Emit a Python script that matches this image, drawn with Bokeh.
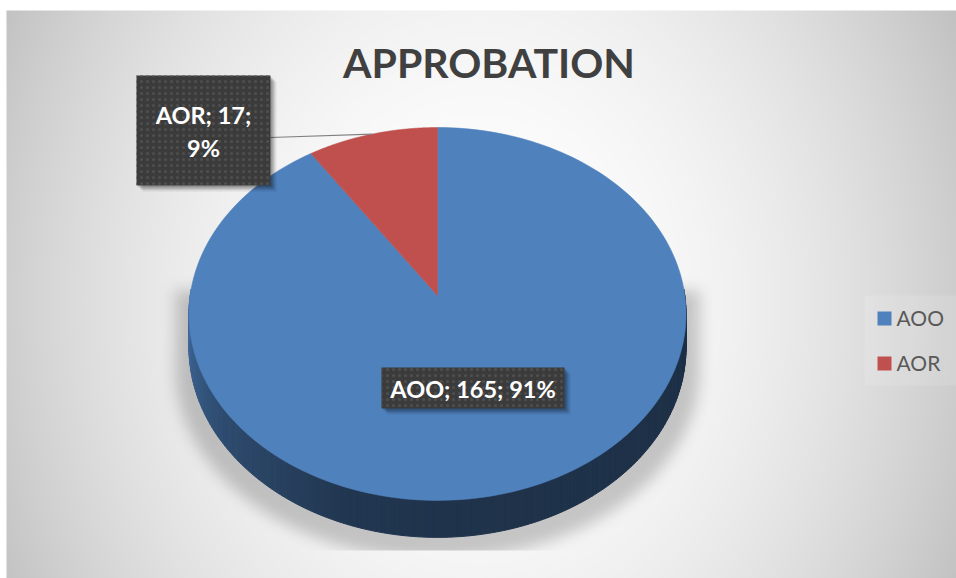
import numpy as np
from bokeh.plotting import figure
from bokeh.models import Range1d
from bokeh.core.properties import value
from bokeh.embed import file_html
from bokeh.resources import INLINE

# ---------------- data ----------------
title = "APPROBATION"
categories = ["AOO", "AOR"]
counts = [165, 17]
colors = ["#4f81bd", "#c0504d"]

# ---------------- layout ----------------
W, H = 956, 578
X0, Y0 = 0, 0
BASE_SHIFT = 0.36  # empirical correction of the rendered text baseline (em)


def Y(iy):
    return (Y0 + H) - iy


def TY(iy, fs):
    return Y(iy - BASE_SHIFT * fs)


p = figure(width=W, height=H, x_range=Range1d(X0, X0 + W), y_range=Range1d(0, H),
           output_backend="svg", toolbar_location=None, min_border=0,
           x_axis_type=None, y_axis_type=None)
p.grid.visible = False
p.outline_line_color = None
p.background_fill_color = "#ffffff"
p.border_fill_color = "#ffffff"

# ---------------- background (radial gray gradient + soft pie shadow) ----------------
xs = np.arange(X0, X0 + W) + 0.5
ys = np.arange(Y0, Y0 + H) + 0.5
XX, YY = np.meshgrid(xs, ys)
gray = 255 - 48 * ((XX - 478) / 470.0) ** 2 - 12 * ((YY - 300) / 290.0) ** 2


def blur1d(a, r, axis):
    a = np.swapaxes(a, 0, axis)
    pad = np.concatenate([np.repeat(a[:1], r, 0), a, np.repeat(a[-1:], r, 0)], 0)
    c = np.cumsum(pad, 0)
    c = np.concatenate([np.zeros_like(c[:1]), c], 0)
    out = (c[2 * r + 1:] - c[:-2 * r - 1]) / (2 * r + 1)
    return np.swapaxes(out, 0, axis)


dx = XX - 437
a_s, b_s = 262.0, 190.0
inside = (np.abs(dx) < a_s) & (YY >= 290) & \
    (YY <= 313.5 + 55 + b_s * np.sqrt(np.clip(1 - dx ** 2 / a_s ** 2, 0, None)))
m = inside.astype(float)
for _ in range(2):
    m = blur1d(m, 8, 0)
    m = blur1d(m, 8, 1)
m[YY > 550] = 0
gray = gray * (1 - 0.2 * m)
gray[YY < 10] = 255
gray[XX < 6] = 255
g8 = np.clip(gray, 0, 255).astype(np.uint8)
rgba = np.zeros((H, W, 4), dtype=np.uint8)
rgba[..., 0] = g8
rgba[..., 1] = g8
rgba[..., 2] = g8
rgba[..., 3] = 255
img = np.flipud(rgba).copy().view(np.uint32).reshape(H, W)
p.image_rgba(image=[img], x=X0, y=0, dw=W, dh=H)

# ---------------- 3D pie ----------------
CX, CY = 437.0, 295.0
A, B, E, T0 = 247.3, 184.6, 0.0991, 33.3

total = float(sum(counts))
fracs = [c / total for c in counts]
starts = np.concatenate([[0.0], np.cumsum(fracs)[:-1]]) * 360
ends = np.cumsum(fracs) * 360


def proj(th_deg):
    th = np.radians(th_deg)
    u, v = np.sin(th), np.cos(th)
    w = 1 + E * v
    return CX + A * u / w, CY - B * v / w, w


def hex2rgb(h):
    h = h.lstrip("#")
    return np.array([int(h[i:i + 2], 16) for i in (0, 2, 4)], dtype=float)


def rgb2hex(c):
    c = np.clip(c, 0, 255).astype(int)
    return "#%02x%02x%02x" % tuple(c)


def slice_of(th):
    for i in range(len(counts)):
        if starts[i] <= th % 360 < ends[i]:
            return i
    return len(counts) - 1


# side wall
th_side = np.linspace(88, 272, 185)
sx, sy, sc = [], [], []
for t1, t2 in zip(th_side[:-1], th_side[1:]):
    x1, y1, w1 = proj(t1)
    x2, y2, w2 = proj(t2)
    tm = 0.5 * (t1 + t2)
    f = np.interp(tm, [88, 180, 200, 240, 272], [0.37, 0.40, 0.43, 0.62, 0.86])
    col = rgb2hex(hex2rgb(colors[slice_of(tm)]) * f)
    sx.append([x1, x2, x2, x1])
    sy.append([Y(y1), Y(y2), Y(y2 + T0 / w2), Y(y1 + T0 / w1)])
    sc.append(col)
p.patches(xs=sx, ys=sy, fill_color=sc, line_color=sc, line_width=1)

# top face
tx, ty = [], []
for i in range(len(counts)):
    th = np.linspace(starts[i], ends[i], 200)
    px, py, _ = proj(th)
    tx.append([CX] + list(px))
    ty.append([Y(CY)] + [Y(v) for v in py])
p.patches(xs=tx, ys=ty, fill_color=colors, line_color=colors, line_width=0.6)

# ---------------- data labels ----------------
pcts = [int(round(100 * c / total)) for c in counts]
lab_aoo = f"{categories[0]}; {counts[0]}; {pcts[0]}%"
lab_aor1 = f"{categories[1]}; {counts[1]};"
lab_aor2 = f"{pcts[1]}%"

# leader line from AOR box to the middle of the AOR arc
mid_aor = 0.5 * (starts[1] + ends[1])
lx, ly, _ = proj(mid_aor)
p.line([270, lx], [Y(137), Y(ly)], line_color="#808080", line_width=1.2)

boxes = [(136, 270, 75, 185), (381, 564, 367, 408)]
for (l, r, t, b) in boxes:
    for off, al in [(2, 0.18), (4, 0.16), (6, 0.08)]:
        p.quad(left=[l + off], right=[r + off], top=[Y(t + off)], bottom=[Y(b + off)],
               fill_color="black", fill_alpha=al, line_color=None)
    p.quad(left=[l], right=[r], top=[Y(t)], bottom=[Y(b)],
           fill_color="#3b3b3b", line_color=None,
           hatch_pattern="dot", hatch_color="#4f4f4f", hatch_scale=6, hatch_weight=1)

LFS = 23.5
p.text(x=[203, 203, 472.5], y=[TY(123, LFS), TY(156, LFS), TY(397, LFS)],
       text=[lab_aor1, lab_aor2, lab_aoo],
       text_font=value("Lato"), text_font_style="bold", text_font_size=f"{LFS}px",
       text_color="white", text_align="center", text_baseline="alphabetic")

# ---------------- title ----------------
TFS = 41
p.text(x=[488.5], y=[TY(77, TFS)], text=[title], text_font=value("Lato"),
       text_font_style="bold", text_font_size=f"{TFS}px", text_color="#404040",
       text_align="center", text_baseline="alphabetic")

# ---------------- legend ----------------
p.quad(left=[864], right=[X0 + W], top=[Y(295)], bottom=[Y(385)],
       fill_color="white", fill_alpha=0.12, line_color=None)
leg_y = [318, 363]
GFS = 21
p.quad(left=[877] * 2, right=[891] * 2, top=[Y(v - 7) for v in leg_y],
       bottom=[Y(v + 7) for v in leg_y], fill_color=colors, line_color=None)
p.text(x=[896] * 2, y=[TY(v + 6.5, GFS) for v in leg_y], text=categories,
       text_font=value("Lato"), text_font_size=f"{GFS}px", text_color="#595959",
       text_align="left", text_baseline="alphabetic")

open("out.html", "w").write(file_html(p, INLINE))
